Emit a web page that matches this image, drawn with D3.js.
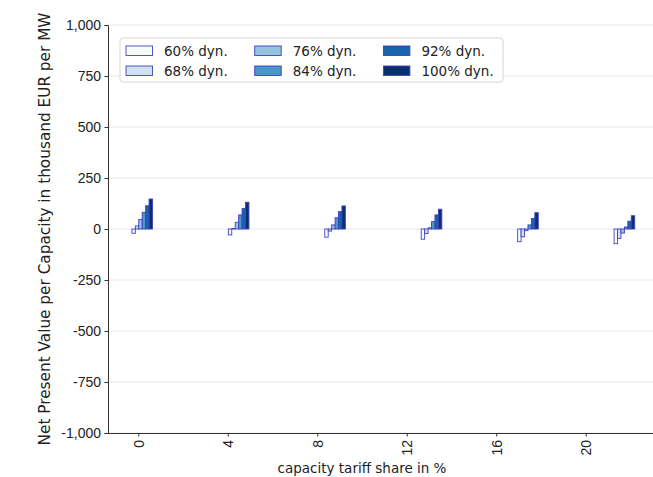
<!DOCTYPE html>
<html>
<head>
<meta charset="utf-8">
<script src="https://cdn.jsdelivr.net/npm/d3@7"></script>
<style>
  body { margin: 0; background: #fff; }
  svg { font-family: "DejaVu Sans", sans-serif; }
</style>
</head>
<body>
<svg id="chart"></svg>
<script>
const shares = [0, 4, 8, 12, 16, 20];
const seriesNames = ['60% dyn.', '68% dyn.', '76% dyn.', '84% dyn.', '92% dyn.', '100% dyn.'];
const dyn60 = [-21, -29, -40, -50, -62, -72];
const dyn68 = [15, 3, -10, -22, -38, -46];
const dyn76 = [47, 33, 20, 6, -8, -20];
const dyn84 = [82, 69, 55, 36, 20, 10];
const dyn92 = [114, 100, 85, 69, 52, 38];
const dyn100 = [147, 131, 113, 97, 80, 65];
const yTicks = [-1000, -750, -500, -250, 0, 250, 500, 750, 1000];
const colors = ['#f7fbff', '#d0e1f2', '#94c4df', '#4a98c9', '#1764ab', '#08306b'];

const series = [dyn60, dyn68, dyn76, dyn84, dyn92, dyn100];

const width = 653, height = 477;
const plotLeft = 108, plotRight = 653, plotTop = 25, plotBottom = 433;
const fs = '13.5px';

const svg = d3.select('#chart').attr('width', width).attr('height', height);

const y = d3.scaleLinear().domain([-1000, 1000]).range([plotBottom, plotTop]);
// tick positions of the category axis
const x = d3.scaleLinear().domain([0, 20]).range([138.3, 585.7]);
// group centres of the bars (drawn slightly offset from the ticks, as in the source)
const xGroup = d3.scaleLinear().domain([0, 20]).range([142.2, 624.4]);
const xInner = d3.scaleBand().domain(d3.range(seriesNames.length)).range([-10.3, 10.3]);

// grid
svg.append('g')
  .selectAll('line')
  .data(yTicks)
  .enter()
  .append('line')
  .attr('x1', plotLeft)
  .attr('x2', plotRight)
  .attr('y1', d => y(d))
  .attr('y2', d => y(d))
  .attr('stroke', '#e3e3e3')
  .attr('stroke-width', 0.8);

// bars
series.forEach((vals, i) => {
  svg.append('g')
    .selectAll('rect')
    .data(vals)
    .enter()
    .append('rect')
    .attr('x', (d, j) => xGroup(shares[j]) + xInner(i))
    .attr('width', xInner.bandwidth())
    .attr('y', d => y(Math.max(0, d)))
    .attr('height', d => Math.abs(y(d) - y(0)))
    .attr('fill', colors[i])
    .attr('stroke', '#4040c0')
    .attr('stroke-width', 0.9);
});

// y axis
const yAxis = svg.append('g')
  .attr('transform', `translate(${plotLeft},0)`)
  .call(d3.axisLeft(y).tickValues(yTicks).tickSize(3.5).tickPadding(3.5)
    .tickFormat(d3.format(',')));
yAxis.select('.domain').attr('stroke', '#333');
yAxis.selectAll('.tick line').attr('stroke', '#333');
yAxis.selectAll('text').style('font-size', '14px').attr('fill', '#222')
  .text(d => d3.format(',')(d).replace('−', '-'));

// x axis
const xAxis = svg.append('g')
  .attr('transform', `translate(0,${plotBottom})`)
  .call(d3.axisBottom(x).tickValues(shares).tickSize(3.5).tickSizeOuter(0));
xAxis.select('.domain').attr('d', `M${plotLeft},0.5H${plotRight}`).attr('stroke', '#333');
xAxis.selectAll('.tick line').attr('stroke', '#333');
xAxis.selectAll('text')
  .style('font-size', '14px')
  .attr('fill', '#222')
  .attr('transform', 'rotate(-90)')
  .attr('x', -7)
  .attr('y', 0)
  .attr('dy', '0.35em')
  .attr('text-anchor', 'end');

// axis labels
svg.append('text')
  .attr('x', (x(0) + x(20)) / 2)
  .attr('y', 473)
  .attr('text-anchor', 'middle')
  .style('font-size', fs)
  .attr('fill', '#222')
  .text('capacity tariff share in %');

svg.append('text')
  .attr('transform', `translate(50,${(plotTop + plotBottom) / 2}) rotate(-90)`)
  .attr('text-anchor', 'middle')
  .style('font-size', '15.3px')
  .attr('fill', '#222')
  .text('Net Present Value per Capacity in thousand EUR per MW');

// legend
const legend = svg.append('g').attr('transform', 'translate(120,38)');
legend.append('rect')
  .attr('width', 383)
  .attr('height', 44)
  .attr('rx', 3)
  .attr('fill', 'rgba(255,255,255,0.8)')
  .attr('stroke', '#d6d6d6');

const item = legend.selectAll('g.item')
  .data(seriesNames)
  .enter()
  .append('g')
  .attr('transform', (d, i) => `translate(${6 + Math.floor(i / 2) * 128.7},${i % 2 === 0 ? 8 : 28})`);
item.append('rect')
  .attr('width', 26.5)
  .attr('height', 9.5)
  .attr('fill', (d, i) => colors[i])
  .attr('stroke', '#4040c0')
  .attr('stroke-width', 0.9);
item.append('text')
  .attr('x', 38)
  .attr('y', 5)
  .attr('dy', '0.35em')
  .style('font-size', fs)
  .attr('fill', '#222')
  .text(d => d);
</script>
</body>
</html>
